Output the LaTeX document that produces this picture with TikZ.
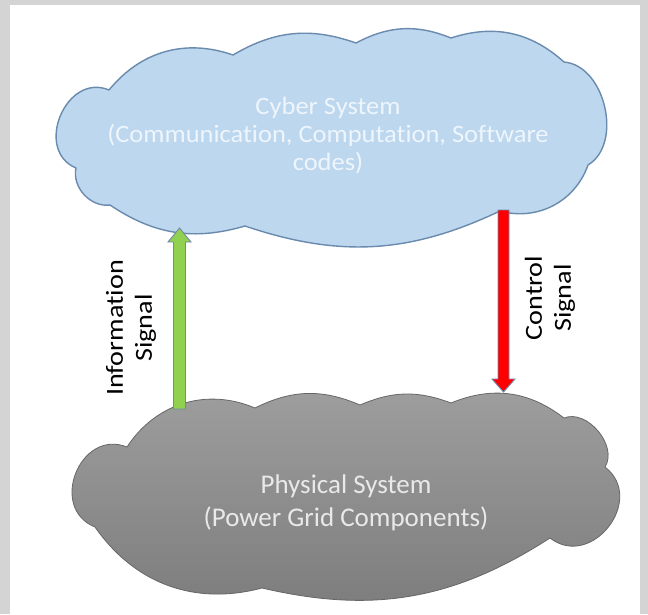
\documentclass[tikz,border=0pt]{standalone}
\usepackage{fontspec}
\setmainfont{Carlito}[Ligatures=NoCommon]
\usetikzlibrary{calc}
\definecolor{outergray}{HTML}{D4D4D4}
\definecolor{cyberfill}{HTML}{BDD7EE}
\definecolor{cyberedge}{HTML}{6A8AAE}
\definecolor{cybertext}{HTML}{EEF5FC}
\definecolor{phystop}{HTML}{9E9E9E}
\definecolor{physbot}{HTML}{7C7C7C}
\definecolor{physedge}{HTML}{666666}
\definecolor{phystext}{HTML}{E9E9E9}
\definecolor{infogreen}{HTML}{92D050}
\definecolor{ctrlred}{HTML}{FF0000}
\definecolor{arrowedge}{HTML}{7088AA}
\tikzset{
  cloudline/.style={line width=1.4pt, line join=round},
  blockarrow/.style={draw=arrowedge, line width=0.9pt, line join=miter},
  sidelabel/.style={align=center, text=black, inner sep=0pt,
    font=\fontsize{24.5}{29}\selectfont},
}
\newcommand{\hstretch}[2]{\scalebox{#1}[1]{#2}}
\begin{document}
\begin{tikzpicture}[x=1pt,y=-1pt]
\useasboundingbox (0,0) rectangle (648,614);
\fill[outergray] (0,0) rectangle (648,614);
\fill[white] (10,5) rectangle (640,614);

% Cyber cloud
\draw[cloudline, draw=cyberedge, fill=cyberfill]
  (76,168) to[bend left=90, looseness=1.4] (109,90)
  to[bend left=35] (233,55)
  to[bend left=25] (356,43)
  to[bend left=25] (451,38)
  to[bend left=30] (564,62)
  to[bend left=72] (588,165)
  to[bend left=43] (500,211)
  to[bend left=22] (245,226)
  to[bend left=25] (110,205)
  to[bend left=55] (76,168) -- cycle;

% Physical cloud
\draw[line width=0.8pt, line join=round, draw=physedge, top color=phystop, bottom color=physbot]
  (95,527) to[bend left=90, looseness=1.5] (127,447)
  to[bend left=40] (255,408)
  to[bend left=25] (360,405)
  to[bend left=22] (451,403)
  to[bend left=30] (564,418)
  to[bend left=72] (605,467)
  to[bend left=90, looseness=1.5] (550,538)
  to[bend left=23] (262,588)
  to[bend left=35] (95,527) -- cycle;

% texts
\node[align=center, text=cybertext, inner sep=0pt,
      font=\fontsize{25}{28}\selectfont] (cyber) at (328,136)
  {\hstretch{1.06}{Cyber System}\\
   \hstretch{1.06}{(Communication, Computation, Software}\\
   \hstretch{1.06}{codes)}};
\node[align=center, text=phystext, inner sep=0pt,
      font=\fontsize{27}{33}\selectfont] (physical) at (346,503)
  {Physical System\\(Power Grid Components)};

% arrows
\coordinate (gstart) at (179.5,409);
\coordinate (gend) at (179.5,228);
\draw[blockarrow, fill=infogreen]
  ($(gstart)+(-6,0)$) -- ($(gend)+(-6,14)$) -- ($(gend)+(-11.5,14)$) -- (gend)
  -- ($(gend)+(11.5,14)$) -- ($(gend)+(6,14)$) -- ($(gstart)+(6,0)$) -- cycle;

\coordinate (rstart) at (503.5,210);
\coordinate (rend) at (503.5,392);
\draw[blockarrow, fill=ctrlred]
  ($(rstart)+(-5.5,0)$) -- ($(rend)+(-5.5,-13)$) -- ($(rend)+(-11.5,-13)$) -- (rend)
  -- ($(rend)+(11.5,-13)$) -- ($(rend)+(5.5,-13)$) -- ($(rstart)+(5.5,0)$) -- cycle;

% side labels
\node[sidelabel, rotate=90] (infolab) at (131,328)
  {\hstretch{1.15}{Information}\\\hstretch{1.15}{Signal}};
\node[sidelabel, rotate=90] (ctrllab) at (550,298)
  {\hstretch{1.15}{Control}\\\hstretch{1.15}{Signal}};
\end{tikzpicture}
\end{document}
